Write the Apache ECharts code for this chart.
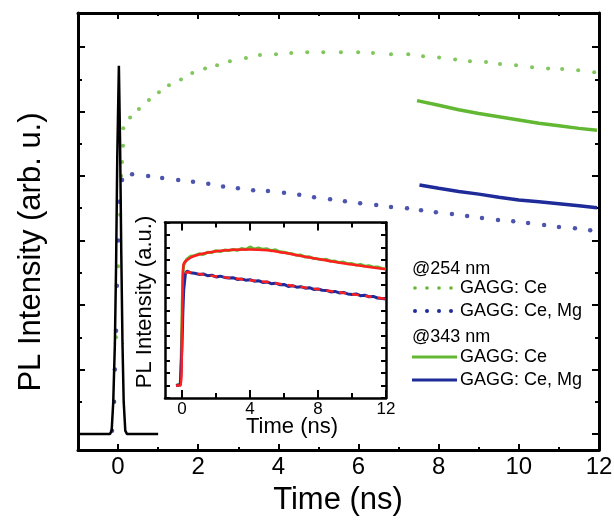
<!DOCTYPE html>
<html>
<head>
<meta charset="utf-8">
<script src="https://cdn.jsdelivr.net/npm/echarts@6/dist/echarts.min.js"></script>
<style>
  html, body { margin: 0; padding: 0; background: #fff; }
  #chart { width: 614px; height: 523px; }
</style>
</head>
<body>
<div id="chart"></div>
<script>
// main panel, time in ns, intensity in tick units (baseline = 0)
var pulseT = [-1, -0.2, -0.16, -0.12, -0.08, -0.05, -0.02, 0.02, 0.05, 0.08, 0.11, 0.14, 0.18, 0.22, 1.0];
var pulseV = [0, 0, 0.05, 0.5, 1.4, 2.6, 4.3, 5.71, 4.5, 2.8, 1.4, 0.5, 0.05, 0, 0];

var ceDotT = [-0.1, -0.05, 0.0, 0.05, 0.08, 0.1, 0.125, 0.13, 0.3, 0.52, 0.77, 1.02, 1.27, 1.57, 1.85, 2.17, 2.47, 2.79, 3.19, 3.54, 3.94, 4.32, 4.72, 5.12, 5.56, 5.99, 6.36, 6.81, 7.24, 7.61, 8.01, 8.41, 8.78, 9.18, 9.53, 9.93, 10.33, 10.73, 11.08, 11.48, 11.88];
var ceDotV = [0.5, 1.5, 2.6, 3.4, 4.0, 4.22, 4.47, 4.74, 4.91, 5.04, 5.18, 5.30, 5.41, 5.50, 5.60, 5.67, 5.72, 5.78, 5.83, 5.88, 5.89, 5.91, 5.92, 5.92, 5.92, 5.92, 5.91, 5.89, 5.89, 5.86, 5.84, 5.81, 5.78, 5.77, 5.74, 5.72, 5.69, 5.67, 5.66, 5.64, 5.61];

var mgDotT = [-0.15, -0.1, -0.08, -0.05, -0.03, 0.0, 0.03, 0.1, 0.35, 0.75, 1.10, 1.50, 1.87, 2.25, 2.62, 2.99, 3.37, 3.74, 4.14, 4.52, 4.89, 5.29, 5.66, 6.04, 6.44, 6.81, 7.21, 7.56, 7.93, 8.33, 8.71, 9.08, 9.48, 9.86, 10.23, 10.63, 11.00, 11.40, 11.78];
var mgDotV = [0.05, 0.5, 1.0, 1.6, 2.3, 3.0, 3.6, 3.94, 4.03, 4.00, 3.97, 3.94, 3.91, 3.88, 3.84, 3.81, 3.78, 3.77, 3.74, 3.71, 3.67, 3.64, 3.61, 3.58, 3.55, 3.52, 3.50, 3.47, 3.44, 3.41, 3.38, 3.35, 3.32, 3.30, 3.27, 3.24, 3.21, 3.19, 3.16];

var ceLineT = [7.46, 8.0, 8.5, 9.0, 9.5, 10.0, 10.5, 11.0, 11.5, 11.95];
var ceLineV = [5.17, 5.10, 5.03, 4.97, 4.92, 4.87, 4.82, 4.78, 4.74, 4.71];
var mgLineT = [7.52, 8.0, 8.5, 9.0, 9.5, 10.0, 10.5, 11.0, 11.5, 11.95];
var mgLineV = [3.86, 3.81, 3.76, 3.72, 3.67, 3.63, 3.60, 3.57, 3.54, 3.51];

// inset, time in ns, intensity in inset tick units
var insetCeT = [-0.35, -0.1, -0.05, 0, 0.05, 0.1, 0.27, 0.5, 0.75, 1.0, 1.25, 1.5, 1.75, 2.0, 2.25, 2.5, 2.75, 3.0, 3.25, 3.5, 3.75, 4.0, 4.25, 4.5, 4.75, 5.0, 5.25, 5.5, 5.75, 6.0, 6.25, 6.5, 6.75, 7.0, 7.25, 7.5, 7.75, 8.0, 8.25, 8.5, 8.75, 9.0, 9.25, 9.5, 9.75, 10.0, 10.25, 10.5, 10.75, 11.0, 11.25, 11.5, 11.75, 12.0];
var insetCeV = [0, 0.1, 2.0, 5.5, 8.8, 9.6, 10.05, 10.3, 10.35, 10.5, 10.45, 10.62, 10.6, 10.75, 10.68, 10.8, 10.76, 10.85, 10.78, 10.92, 10.84, 11.05, 10.88, 10.98, 10.86, 10.9, 10.74, 10.82, 10.66, 10.62, 10.55, 10.5, 10.38, 10.4, 10.24, 10.26, 10.12, 10.1, 10.02, 10.06, 9.9, 9.92, 9.8, 9.84, 9.7, 9.72, 9.6, 9.66, 9.52, 9.56, 9.44, 9.46, 9.34, 9.3];

var insetMgT = [-0.35, -0.1, -0.05, 0, 0.05, 0.1, 0.2, 0.3, 0.5, 0.75, 1.0, 1.25, 1.5, 1.75, 2.0, 2.25, 2.5, 2.75, 3.0, 3.25, 3.5, 3.75, 4.0, 4.25, 4.5, 4.75, 5.0, 5.25, 5.5, 5.75, 6.0, 6.25, 6.5, 6.75, 7.0, 7.25, 7.5, 7.75, 8.0, 8.25, 8.5, 8.75, 9.0, 9.25, 9.5, 9.75, 10.0, 10.25, 10.5, 10.75, 11.0, 11.25, 11.5, 11.75, 12.0];
var insetMgV = [0, 0.05, 1.5, 3.2, 5.8, 7.6, 8.9, 9.12, 9.0, 8.95, 8.86, 8.9, 8.76, 8.8, 8.66, 8.72, 8.62, 8.58, 8.6, 8.46, 8.5, 8.4, 8.44, 8.32, 8.36, 8.22, 8.26, 8.12, 8.16, 8.04, 8.06, 7.9, 7.96, 7.84, 7.88, 7.76, 7.8, 7.66, 7.7, 7.6, 7.58, 7.46, 7.5, 7.38, 7.42, 7.3, 7.26, 7.3, 7.16, 7.2, 7.08, 7.1, 6.98, 6.94, 6.9];

var fitCeT = [-0.35, -0.08, 0, 0.05, 0.1, 0.5, 1, 2, 3, 4, 5, 6, 7, 8, 9, 10, 11, 12];
var fitCeV = [0, 0, 4.5, 8.6, 9.7, 10.2, 10.45, 10.7, 10.82, 10.85, 10.78, 10.58, 10.33, 10.08, 9.85, 9.65, 9.45, 9.27];
var fitMgT = [0.2, 0.3, 1, 2, 3, 4, 5, 6, 7, 8, 9, 10, 11, 12];
var fitMgV = [8.9, 9.05, 8.9, 8.7, 8.55, 8.4, 8.25, 8.05, 7.85, 7.68, 7.48, 7.28, 7.1, 6.9];

var xTicksMain = [0, 12, 2];   // min, max, interval
var xTicksInset = [0, 12, 4];

var GREEN = '#62b832';
var BLUE = '#1f2b99';
var RED = '#ff1f1f';
var FONT = 'Liberation Sans, Arial, sans-serif';

function zip(xs, ys) {
  var out = [];
  for (var i = 0; i < xs.length; i++) out.push([xs[i], ys[i]]);
  return out;
}

function frameAxis(grid, pos, w, extra) {
  var a = {
    gridIndex: grid, type: 'value', position: pos,
    axisLine: { show: true, onZero: false, lineStyle: { color: '#000', width: w } },
    axisTick: { show: false }, axisLabel: { show: false }, splitLine: { show: false }
  };
  for (var k in extra) a[k] = extra[k];
  return a;
}

function tickAxis(grid, pos, offset, min, max, interval, len, minorLen, labels) {
  return {
    gridIndex: grid, type: 'value', position: pos, offset: offset,
    min: min, max: max, interval: interval,
    axisLine: { show: false, onZero: false },
    axisTick: { show: true, inside: true, length: len, lineStyle: { color: '#000', width: 2 } },
    minorTick: { show: minorLen > 0, splitNumber: 2, length: minorLen, lineStyle: { color: '#000', width: 2 } },
    axisLabel: labels || { show: false },
    splitLine: { show: false }, minorSplitLine: { show: false }
  };
}

var chart = echarts.init(document.getElementById('chart'));

var option = {
  animation: false,
  backgroundColor: '#fff',
  textStyle: { fontFamily: FONT },
  grid: [
    { left: 78, right: 15, top: 13, bottom: 73, outerBoundsMode: 'none' },        // main frame + data
    { left: 118, right: 15, top: 47, bottom: 89, outerBoundsMode: 'none' },       // main ticks
    { left: 165, right: 228, top: 222.5, bottom: 125, outerBoundsMode: 'none' },  // inset frame + data
    { left: 182, right: 228, top: 222.5, bottom: 125, outerBoundsMode: 'none' }   // inset x ticks
  ],
  xAxis: [
    frameAxis(0, 'bottom', 3, { min: -1, max: 12 }),
    frameAxis(0, 'top', 3, { min: -1, max: 12 }),
    tickAxis(1, 'bottom', 16, xTicksMain[0], xTicksMain[1], xTicksMain[2], 6, 3,
      { show: true, fontSize: 24, color: '#000', margin: 5, fontFamily: FONT }),
    tickAxis(1, 'top', 34, xTicksMain[0], xTicksMain[1], xTicksMain[2], 6, 3),
    frameAxis(2, 'bottom', 2.5, { min: -1, max: 12 }),
    frameAxis(2, 'top', 2.5, { min: -1, max: 12 }),
    tickAxis(3, 'bottom', 0, xTicksInset[0], xTicksInset[1], xTicksInset[2], 8, 5,
      { show: true, fontSize: 17, color: '#000', margin: 3, fontFamily: FONT }),
    tickAxis(3, 'top', 0, xTicksInset[0], xTicksInset[1], xTicksInset[2], 8, 5)
  ],
  yAxis: [
    frameAxis(0, 'left', 3, { min: -0.25, max: 6.53 }),
    frameAxis(0, 'right', 3, { min: -0.25, max: 6.53 }),
    tickAxis(1, 'left', 40, 0, 6, 1, 7, 4),
    tickAxis(1, 'right', 0, 0, 6, 1, 7, 4),
    frameAxis(2, 'left', 2.5, { min: -1, max: 13, interval: 1,
      axisTick: { show: true, inside: true, length: 5, lineStyle: { color: '#000', width: 2 } } }),
    frameAxis(2, 'right', 2.5, { min: -1, max: 13, interval: 1,
      axisTick: { show: true, inside: true, length: 5, lineStyle: { color: '#000', width: 2 } } }),
    { gridIndex: 3, type: 'value', show: false, min: -1, max: 13 }
  ],
  series: [
    {
      type: 'line', xAxisIndex: 0, yAxisIndex: 0, data: zip(pulseT, pulseV),
      showSymbol: false, lineStyle: { color: '#000', width: 2.5 }, itemStyle: { color: '#000' }
    },
    {
      type: 'scatter', xAxisIndex: 0, yAxisIndex: 0, data: zip(ceDotT, ceDotV),
      symbolSize: 4, itemStyle: { color: GREEN }
    },
    {
      type: 'scatter', xAxisIndex: 0, yAxisIndex: 0, data: zip(mgDotT, mgDotV),
      symbolSize: 4.5, itemStyle: { color: BLUE }
    },
    {
      type: 'line', xAxisIndex: 0, yAxisIndex: 0, data: zip(ceLineT, ceLineV),
      showSymbol: false, lineStyle: { color: GREEN, width: 3.5 }
    },
    {
      type: 'line', xAxisIndex: 0, yAxisIndex: 0, data: zip(mgLineT, mgLineV),
      showSymbol: false, lineStyle: { color: BLUE, width: 3.5 }
    },
    // inset
    {
      type: 'line', xAxisIndex: 4, yAxisIndex: 4, data: zip(insetCeT, insetCeV),
      showSymbol: false, lineStyle: { color: GREEN, width: 3 }
    },
    {
      type: 'line', xAxisIndex: 4, yAxisIndex: 4, data: zip(insetMgT, insetMgV),
      showSymbol: false, lineStyle: { color: BLUE, width: 3 }
    },
    {
      type: 'line', xAxisIndex: 4, yAxisIndex: 4, data: zip(fitCeT, fitCeV), smooth: 0.3,
      showSymbol: false, lineStyle: { color: RED, width: 2.5 }
    },
    {
      type: 'line', xAxisIndex: 4, yAxisIndex: 4, data: zip(fitMgT, fitMgV), smooth: 0.3,
      showSymbol: false, lineStyle: { color: RED, width: 2.5, type: [7, 6] }
    }
  ],
  graphic: [
    { type: 'text', x: 338, y: 500,
      style: { text: 'Time (ns)', font: '31px ' + FONT, fill: '#000', align: 'center', verticalAlign: 'middle' } },
    { type: 'text', x: 31, y: 252, rotation: Math.PI / 2,
      style: { text: 'PL Intensity (arb. u.)', font: '31px ' + FONT, fill: '#000', align: 'center', verticalAlign: 'middle' } },
    { type: 'text', x: 145, y: 302, rotation: Math.PI / 2,
      style: { text: 'PL Intensity (a.u.)', font: '22px ' + FONT, fill: '#000', align: 'center', verticalAlign: 'middle' } },
    { type: 'text', x: 292, y: 427,
      style: { text: 'Time (ns)', font: '22px ' + FONT, fill: '#000', align: 'center', verticalAlign: 'middle' } },
    // legend
    { type: 'text', x: 412, y: 269, style: { text: '@254 nm', font: '18px ' + FONT, fill: '#000', verticalAlign: 'middle' } },
    { type: 'circle', shape: { cx: 415, cy: 288, r: 1.8 }, style: { fill: GREEN } },
    { type: 'circle', shape: { cx: 427, cy: 288, r: 1.8 }, style: { fill: GREEN } },
    { type: 'circle', shape: { cx: 439, cy: 288, r: 1.8 }, style: { fill: GREEN } },
    { type: 'circle', shape: { cx: 451, cy: 288, r: 1.8 }, style: { fill: GREEN } },
    { type: 'text', x: 460, y: 288, style: { text: 'GAGG: Ce', font: '18px ' + FONT, fill: '#000', verticalAlign: 'middle' } },
    { type: 'circle', shape: { cx: 415, cy: 311, r: 2 }, style: { fill: BLUE } },
    { type: 'circle', shape: { cx: 427, cy: 311, r: 2 }, style: { fill: BLUE } },
    { type: 'circle', shape: { cx: 439, cy: 311, r: 2 }, style: { fill: BLUE } },
    { type: 'circle', shape: { cx: 451, cy: 311, r: 2 }, style: { fill: BLUE } },
    { type: 'text', x: 460, y: 311, style: { text: 'GAGG: Ce, Mg', font: '18px ' + FONT, fill: '#000', verticalAlign: 'middle' } },
    { type: 'text', x: 412, y: 337, style: { text: '@343 nm', font: '18px ' + FONT, fill: '#000', verticalAlign: 'middle' } },
    { type: 'line', shape: { x1: 412, y1: 357, x2: 457, y2: 357 }, style: { stroke: GREEN, lineWidth: 3 } },
    { type: 'text', x: 460, y: 357, style: { text: 'GAGG: Ce', font: '18px ' + FONT, fill: '#000', verticalAlign: 'middle' } },
    { type: 'line', shape: { x1: 412, y1: 380, x2: 457, y2: 380 }, style: { stroke: BLUE, lineWidth: 3 } },
    { type: 'text', x: 460, y: 380, style: { text: 'GAGG: Ce, Mg', font: '18px ' + FONT, fill: '#000', verticalAlign: 'middle' } }
  ]
};

chart.setOption(option);
</script>
</body>
</html>
